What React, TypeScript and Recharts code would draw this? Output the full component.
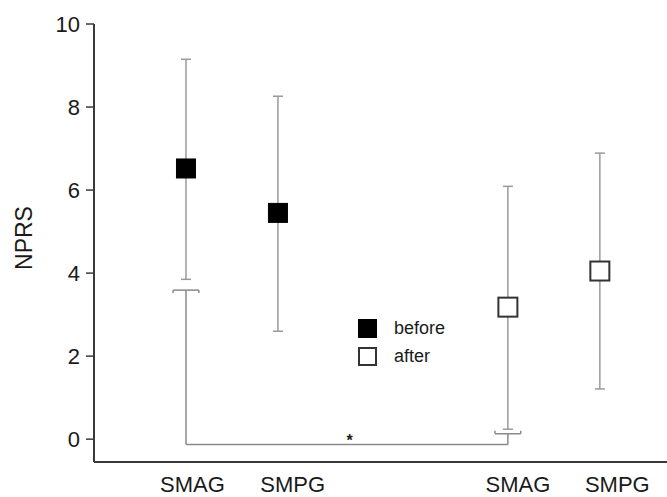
import React from 'react';
import {
  ComposedChart, Scatter, ErrorBar, XAxis, YAxis, ReferenceLine, ReferenceDot, Legend,
} from 'recharts';

// group positions on the numeric x scale (one unit = spacing between neighbouring groups)
const positions = [1, 2, 4.5, 5.5];
const groupLabels = ['SMAG', 'SMPG', 'SMAG', 'SMPG'];
const labelTicks = [1.07, 2.16, 4.61, 5.69];

const beforeMean = [6.52, 5.45];
const beforeLow = [3.85, 2.6];
const beforeHigh = [9.15, 8.26];

const afterMean = [3.18, 4.05];
const afterLow = [0.24, 1.21];
const afterHigh = [6.09, 6.89];

const yTicks = [0, 2, 4, 6, 8, 10];

const FONT = '"Liberation Sans", Arial, Helvetica, sans-serif';
const AXIS = '#3a3a3a';
const BAR = '#9a9a9a';

const build = (xs: number[], mean: number[], low: number[], high: number[]) =>
  mean.map((m, i) => ({ x: xs[i], y: m, err: [m - low[i], high[i] - m] }));

const beforeData = build(positions.slice(0, 2), beforeMean, beforeLow, beforeHigh);
const afterData = build(positions.slice(2), afterMean, afterLow, afterHigh);

const Square = (fill: string) => (props: any) => {
  const { cx, cy } = props;
  return (
    <rect x={cx - 9.5} y={cy - 9.5} width={19} height={19} fill={fill} stroke={fill === '#000' ? '#000' : '#333'} strokeWidth={fill === '#000' ? 1 : 2} />
  );
};

const LegendBox = () => (
  <div style={{ fontFamily: FONT, fontSize: 18, color: '#1a1a1a', lineHeight: '28px' }}>
    {[['#000', 'before'], ['#fff', 'after']].map(([c, t]) => (
      <div key={t} style={{ display: 'flex', alignItems: 'center', height: 28 }}>
        <div
          style={{
            boxSizing: 'border-box', width: 19, height: 19, background: c,
            border: c === '#000' ? '1px solid #000' : '2px solid #333', marginRight: 17,
          }}
        />
        <span>{t}</span>
      </div>
    ))}
  </div>
);

const YLabel = () => (
  <text x={32} y={238} transform="rotate(-90 32 238)" textAnchor="middle" fontSize={23} fill="#1a1a1a" fontFamily={FONT}>
    NPRS
  </text>
);

const line = { stroke: '#8a8a8a', strokeWidth: 1.5 };

export default function App() {
  return (
    <div style={{ position: 'absolute', left: 0, top: 0, fontFamily: FONT, background: '#fff' }}>
      <ComposedChart width={667} height={497} margin={{ top: 24, right: 0, bottom: 0, left: 0 }}>
        <XAxis
          type="number"
          dataKey="x"
          domain={[0, 6.23]}
          ticks={labelTicks}
          tickFormatter={(v: number) => groupLabels[labelTicks.indexOf(v)]}
          tickLine={false}
          tickSize={8}
          tickMargin={6}
          height={35}
          axisLine={{ stroke: AXIS, strokeWidth: 2 }}
          tick={{ fill: '#1a1a1a', fontSize: 22 }}
          allowDataOverflow
        />
        <YAxis
          type="number"
          dataKey="y"
          domain={[-0.55, 10]}
          ticks={yTicks}
          width={94}
          tickSize={8}
          tickMargin={6}
          axisLine={{ stroke: AXIS, strokeWidth: 2 }}
          tickLine={{ stroke: AXIS, strokeWidth: 1.5 }}
          tick={{ fill: '#1a1a1a', fontSize: 22 }}
          label={YLabel}
          allowDataOverflow
        />
        {/* significance bracket */}
        <ReferenceLine segment={[{ x: 0.86, y: 3.52 }, { x: 0.86, y: 3.59 }]} {...line} />
        <ReferenceLine segment={[{ x: 0.86, y: 3.59 }, { x: 1.14, y: 3.59 }]} {...line} />
        <ReferenceLine segment={[{ x: 1.14, y: 3.59 }, { x: 1.14, y: 3.52 }]} {...line} />
        <ReferenceLine segment={[{ x: 1, y: 3.59 }, { x: 1, y: -0.13 }]} {...line} />
        <ReferenceLine segment={[{ x: 1, y: -0.13 }, { x: 4.5, y: -0.13 }]} {...line} />
        <ReferenceLine segment={[{ x: 4.5, y: -0.13 }, { x: 4.5, y: 0.13 }]} {...line} />
        <ReferenceLine segment={[{ x: 4.36, y: 0.2 }, { x: 4.36, y: 0.13 }]} {...line} />
        <ReferenceLine segment={[{ x: 4.36, y: 0.13 }, { x: 4.64, y: 0.13 }]} {...line} />
        <ReferenceLine segment={[{ x: 4.64, y: 0.13 }, { x: 4.64, y: 0.2 }]} {...line} />
        <ReferenceDot
          x={2.78}
          y={-0.02}
          r={0}
          fill="none"
          stroke="none"
          label={{ value: '*', position: 'center', fontSize: 16, fill: '#1a1a1a', fontWeight: 'bold' }}
        />
        <Scatter name="before" data={beforeData} fill="#000" shape={Square('#000')} isAnimationActive={false}>
          <ErrorBar dataKey="err" direction="y" width={5} stroke={BAR} strokeWidth={1.5} isAnimationActive={false} />
        </Scatter>
        <Scatter name="after" data={afterData} fill="#fff" shape={Square('#fff')} isAnimationActive={false}>
          <ErrorBar dataKey="err" direction="y" width={5} stroke={BAR} strokeWidth={1.5} isAnimationActive={false} />
        </Scatter>
        <Legend
          layout="horizontal"
          verticalAlign="middle"
          align="center"
          content={LegendBox}
          wrapperStyle={{ position: 'absolute', left: 358, top: 314, width: 'auto', height: 'auto' }}
        />
      </ComposedChart>
    </div>
  );
}
